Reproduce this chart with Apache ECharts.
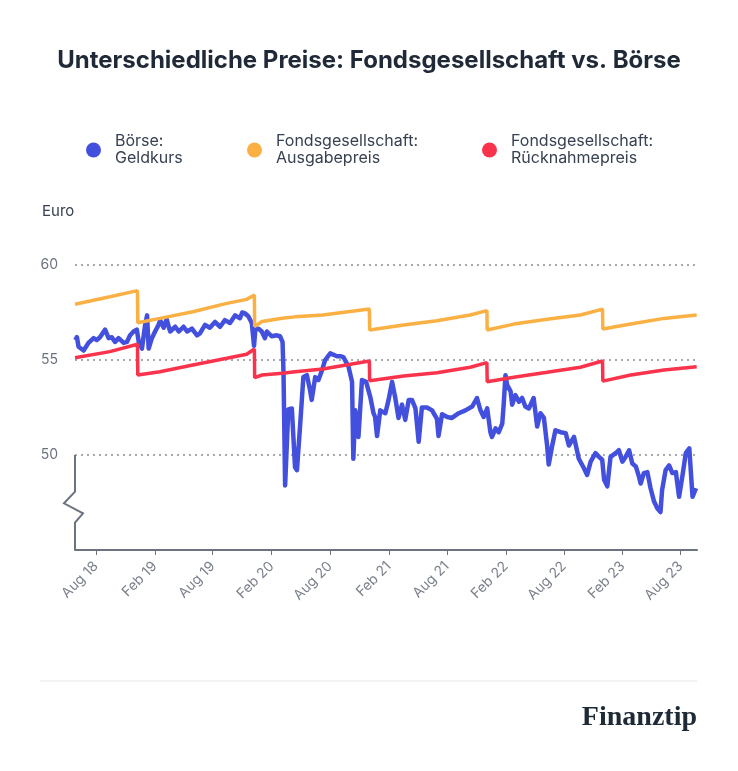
<!DOCTYPE html>
<html><head><meta charset="utf-8">
<script src="https://cdn.jsdelivr.net/npm/echarts@6/dist/echarts.min.js"></script>
<style>html,body{margin:0;padding:0;background:#fff}#c{width:738px;height:771px}</style>
</head><body><div id="c"></div>
<script>
const seriesNames = ['Börse:\nGeldkurs', 'Fondsgesellschaft:\nAusgabepreis', 'Fondsgesellschaft:\nRücknahmepreis'];
const seriesColors = ['#4350dd', '#fab043', '#f8334b'];

const boerseDates = ['2018-05-29','2018-06-03','2018-06-08','2018-06-24','2018-07-09','2018-07-25','2018-08-04','2018-08-14','2018-08-30','2018-09-10','2018-09-20','2018-09-30','2018-10-11','2018-10-27','2018-11-06','2018-11-16','2018-11-27','2018-12-07','2018-12-13','2018-12-23','2019-01-02','2019-01-08','2019-01-13','2019-01-23','2019-02-02','2019-02-13','2019-02-18','2019-03-01','2019-03-10','2019-03-21','2019-04-06','2019-04-17','2019-05-02','2019-05-13','2019-05-28','2019-06-13','2019-06-22','2019-07-08','2019-07-23','2019-08-08','2019-08-24','2019-09-08','2019-09-24','2019-10-10','2019-10-25','2019-11-01','2019-11-10','2019-11-20','2019-12-01','2019-12-08','2019-12-12','2019-12-22','2020-01-01','2020-01-11','2020-01-17','2020-02-01','2020-02-17','2020-02-27','2020-03-06','2020-03-09','2020-03-14','2020-03-24','2020-04-04','2020-04-14','2020-04-20','2020-04-30','2020-05-10','2020-05-21','2020-05-31','2020-06-05','2020-06-16','2020-06-26','2020-07-07','2020-07-17','2020-08-02','2020-08-07','2020-08-23','2020-09-02','2020-09-12','2020-09-28','2020-10-09','2020-10-13','2020-10-19','2020-10-29','2020-11-09','2020-11-22','2020-12-05','2020-12-15','2020-12-20','2020-12-26','2021-01-05','2021-01-21','2021-01-31','2021-02-11','2021-02-21','2021-03-03','2021-03-14','2021-03-24','2021-04-04','2021-04-14','2021-04-25','2021-05-05','2021-05-15','2021-05-31','2021-06-16','2021-07-01','2021-07-06','2021-07-17','2021-08-02','2021-08-17','2021-09-07','2021-09-28','2021-10-19','2021-11-03','2021-11-14','2021-11-24','2021-12-05','2021-12-15','2021-12-20','2021-12-31','2022-01-10','2022-01-21','2022-01-26','2022-01-31','2022-02-05','2022-02-16','2022-02-21','2022-03-03','2022-03-14','2022-03-24','2022-04-03','2022-04-14','2022-04-29','2022-05-10','2022-05-20','2022-05-31','2022-06-10','2022-06-15','2022-06-26','2022-07-06','2022-07-22','2022-08-07','2022-08-17','2022-09-02','2022-09-17','2022-10-03','2022-10-13','2022-10-24','2022-11-08','2022-11-19','2022-11-29','2022-12-05','2022-12-15','2022-12-25','2023-01-10','2023-01-20','2023-01-31','2023-02-10','2023-02-21','2023-03-03','2023-03-14','2023-03-24','2023-03-29','2023-04-08','2023-04-19','2023-04-29','2023-05-10','2023-05-20','2023-05-30','2023-06-04','2023-06-15','2023-06-26','2023-07-06','2023-07-17','2023-07-27','2023-08-07','2023-08-17','2023-08-28','2023-09-07','2023-09-18'];
const boerseValues = [56.05,56.2,55.7,55.5,55.9,56.15,56.05,56.2,56.6,56.15,56.2,55.95,56.15,55.9,55.95,56.3,56.5,56.6,55.95,55.6,56.85,57.35,55.6,56.15,56.5,56.85,57.1,56.7,57.15,56.5,56.75,56.5,56.75,56.5,56.65,56.3,56.4,56.85,56.7,57.0,56.75,57.1,56.95,57.35,57.2,57.5,57.45,57.3,56.95,55.75,56.6,56.65,56.5,56.15,56.5,56.25,56.3,56.25,55.95,54.35,48.4,52.4,52.45,49.35,49.2,51.6,54.1,54.2,53.4,52.9,54.1,53.95,54.45,55.0,55.35,55.45,55.2,55.2,55.15,54.65,53.85,49.8,52.35,50.95,53.95,53.85,53.05,52.2,52.0,51.0,52.35,52.2,52.9,53.85,53.0,51.95,52.65,51.85,52.9,52.9,52.45,50.7,52.5,52.5,52.35,51.9,51.0,52.15,52.0,51.95,52.2,52.35,52.55,53.0,52.35,52.0,52.45,51.2,50.95,51.4,51.2,51.65,52.8,54.2,53.7,53.35,52.65,53.15,52.8,53.0,52.55,52.45,53.0,51.5,52.2,51.95,50.5,49.5,50.5,51.3,51.2,51.15,50.5,50.95,49.8,49.3,48.95,49.65,50.1,49.9,49.75,48.7,48.35,49.9,50.1,50.25,49.65,49.9,50.25,49.55,49.4,48.85,48.5,49.05,49.1,48.25,47.55,47.2,47.0,48.15,49.2,49.45,49.05,49.1,47.8,48.95,50.1,50.35,47.8,48.25];

const fondsDates = ['2018-05-28','2018-09-14','2018-12-09','2018-12-10','2019-02-17','2019-05-31','2019-09-14','2019-11-15','2019-12-09','2019-12-10','2020-01-02','2020-03-05','2020-04-14','2020-07-10','2020-12-02','2020-12-03','2021-03-19','2021-07-01','2021-10-13','2021-12-04','2021-12-05','2022-02-26','2022-06-10','2022-09-22','2022-11-30','2022-12-01','2023-02-26','2023-06-10','2023-09-20'];
const ausgabeValues = [57.93,58.33,58.65,56.96,57.19,57.54,57.98,58.19,58.42,56.77,57.03,57.2,57.27,57.37,57.68,56.58,56.84,57.07,57.37,57.6,56.58,56.89,57.14,57.37,57.68,56.63,56.89,57.19,57.37];
const ruecknahmeValues = [55.12,55.44,55.83,54.21,54.38,54.74,55.09,55.3,55.58,54.07,54.21,54.3,54.38,54.53,54.95,53.91,54.16,54.33,54.62,54.86,53.86,54.09,54.35,54.62,54.95,53.89,54.21,54.47,54.65];

const tickDates = ['2018-08-01','2019-02-01','2019-08-01','2020-02-01','2020-08-01','2021-02-01','2021-08-01','2022-02-01','2022-08-01','2023-02-01','2023-08-01'];
const tickLabels = ['Aug 18','Feb 19','Aug 19','Feb 20','Aug 20','Feb 21','Aug 21','Feb 22','Aug 22','Feb 23','Aug 23'];
const xRange = ['2018-05-28', '2023-09-21'];
const yMin = 45, yMax = 60, yStep = 5;

function toTs(s) { const p = s.split('-').map(Number); return Date.UTC(p[0], p[1] - 1, p[2]); }
const tickTs = tickDates.map(toTs);
function zip(d, v) { return d.map((s, i) => [toTs(s), v[i]]); }

const FONT = 'Inter, "Noto Sans", sans-serif';
const chart = echarts.init(document.getElementById('c'), null, { renderer: 'canvas' });

const option = {
  backgroundColor: '#fff',
  animation: false,
  title: {
    text: 'Unterschiedliche Preise: Fondsgesellschaft vs. Börse',
    left: 'center', top: 44,
    textStyle: { fontFamily: FONT, fontSize: 24, fontWeight: 700, color: '#1f2937' }
  },
  legend: seriesNames.map((n, i) => ({
    data: [n], left: [86, 247, 482][i], top: 133, padding: 0, icon: 'circle',
    itemWidth: 15, itemHeight: 15, selectedMode: false,
    textStyle: { fontFamily: FONT, fontSize: 16, lineHeight: 17, color: '#374151', padding: [0, 0, 0, 9] }
  })),
  grid: { left: 75, right: 41, top: 265, bottom: 221, containLabel: false },
  xAxis: {
    type: 'value', min: toTs(xRange[0]), max: toTs(xRange[1]),
    axisLine: { show: true, lineStyle: { color: '#6b7280', width: 2 } },
    axisTick: { show: true, customValues: tickTs, length: 5, lineStyle: { color: '#6b7280', width: 1 } },
    axisLabel: {
      customValues: tickTs, rotate: 45, margin: 14, fontFamily: FONT, fontSize: 14, color: '#7b818c',
      formatter: function (v) {
        for (let i = 0; i < tickTs.length; i++) if (Math.abs(tickTs[i] - v) < 86400000) return tickLabels[i];
        return '';
      }
    },
    splitLine: { show: false }
  },
  yAxis: {
    type: 'value', min: yMin, max: yMax, interval: yStep,
    axisLine: { show: false }, axisTick: { show: false },
    axisLabel: { margin: 17, fontFamily: FONT, fontSize: 14, color: '#6b7280', formatter: v => (v === yMin ? '' : String(v)) },
    splitLine: { show: true, showMinLine: false, lineStyle: { color: '#8a8f98', type: [2, 4], width: 1.5 } }
  },
  series: [
    { name: seriesNames[0], type: 'line', data: zip(boerseDates, boerseValues), showSymbol: false, color: seriesColors[0], lineStyle: { width: 4.5, join: 'round' }, z: 2 },
    { name: seriesNames[1], type: 'line', data: zip(fondsDates, ausgabeValues), showSymbol: false, color: seriesColors[1], lineStyle: { width: 3.5 }, z: 3 },
    { name: seriesNames[2], type: 'line', data: zip(fondsDates, ruecknahmeValues), showSymbol: false, color: seriesColors[2], lineStyle: { width: 3.5 }, z: 4 }
  ]
};
chart.setOption(option);

const x0 = chart.convertToPixel({ xAxisIndex: 0 }, toTs(xRange[0]));
const py = v => chart.convertToPixel({ yAxisIndex: 0 }, v);
chart.setOption({
  graphic: [
    { type: 'polyline', z: 10, shape: { points: [[x0, py(50)], [x0, py(48.07)], [x0 - 11, py(47.46)], [x0 + 8, py(46.93)], [x0, py(46.44)], [x0, py(45)]] },
      style: { stroke: '#6b7280', lineWidth: 2, fill: null } },
    { type: 'text', left: 42, top: 204, style: { text: 'Euro', fontFamily: FONT, fontSize: 15, fill: '#374151' } },
    { type: 'line', shape: { x1: 40, y1: 681, x2: 697, y2: 681 }, style: { stroke: '#e5e7eb', lineWidth: 1 } },
    { type: 'text', right: 41, top: 704, style: { text: 'Finanztip', fontFamily: '"Liberation Serif", "DejaVu Serif", serif', fontWeight: 'bold', fontSize: 28, fill: '#1f2a37' } }
  ]
});
</script>
</body></html>
